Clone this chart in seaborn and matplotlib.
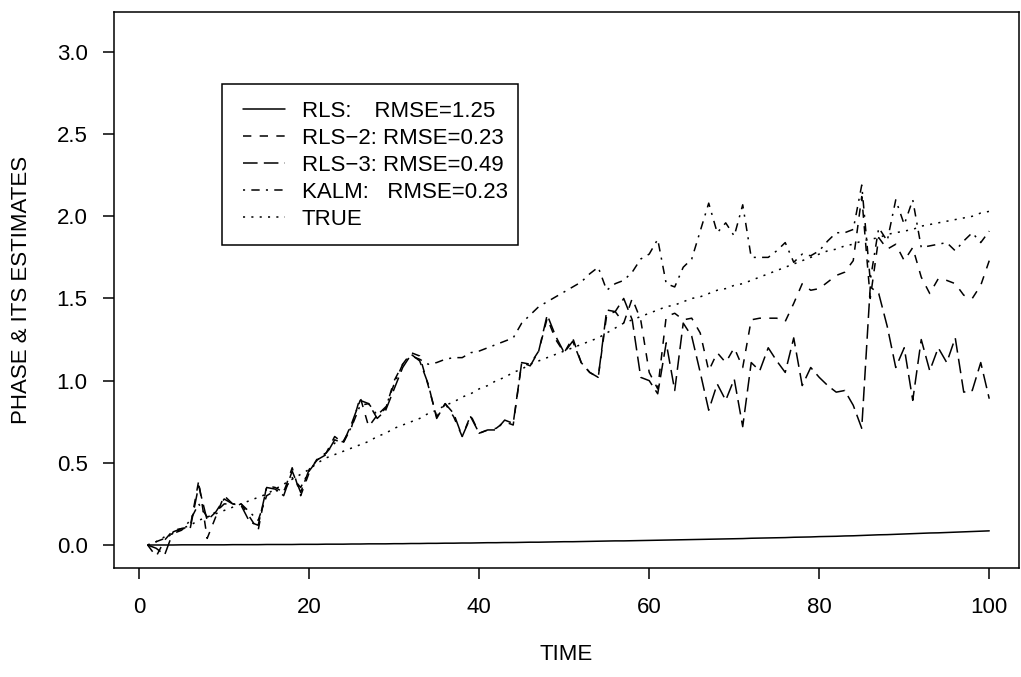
import matplotlib
matplotlib.use("Agg")
import matplotlib.pyplot as plt
import seaborn as sns
import pandas as pd
from matplotlib.patches import Rectangle

# ---------------- data ----------------
time = list(range(1, 101))

rls = [0.000, 0.000, 0.000, 0.000, 0.001, 0.001, 0.001, 0.001, 0.001, 0.001,
       0.002, 0.002, 0.002, 0.002, 0.003, 0.003, 0.003, 0.003, 0.004, 0.004,
       0.004, 0.005, 0.005, 0.005, 0.006, 0.006, 0.007, 0.007, 0.007, 0.008,
       0.008, 0.009, 0.009, 0.010, 0.010, 0.011, 0.011, 0.012, 0.012, 0.013,
       0.014, 0.014, 0.015, 0.015, 0.016, 0.017, 0.017, 0.018, 0.019, 0.020,
       0.020, 0.021, 0.022, 0.023, 0.024, 0.025, 0.025, 0.026, 0.027, 0.028,
       0.029, 0.030, 0.031, 0.032, 0.033, 0.034, 0.035, 0.036, 0.037, 0.038,
       0.039, 0.041, 0.042, 0.043, 0.044, 0.045, 0.047, 0.048, 0.049, 0.051,
       0.052, 0.053, 0.055, 0.056, 0.058, 0.060, 0.062, 0.063, 0.065, 0.067,
       0.069, 0.071, 0.073, 0.074, 0.076, 0.078, 0.080, 0.082, 0.084, 0.086]

rls2 = [0.00, -0.07, 0.03, 0.09, 0.10, 0.11, 0.39, 0.04, 0.17, 0.30,
        0.25, 0.25, 0.17, 0.09, 0.36, 0.35, 0.32, 0.47, 0.30, 0.44,
        0.53, 0.56, 0.66, 0.62, 0.72, 0.90, 0.72, 0.79, 0.83, 1.00,
        1.10, 1.17, 1.15, 0.97, 0.78, 0.86, 0.78, 0.66, 0.79, 0.68,
        0.70, 0.71, 0.75, 0.73, 1.11, 1.10, 1.18, 1.38, 1.25, 1.17,
        1.26, 1.11, 1.05, 1.02, 1.40, 1.42, 1.35, 1.50, 1.37, 1.05,
        0.95, 1.39, 1.41, 1.37, 1.38, 1.29, 1.06, 1.17, 1.11, 1.20,
        1.08, 1.37, 1.38, 1.38, 1.38, 1.36, 1.47, 1.59, 1.55, 1.56,
        1.60, 1.64, 1.66, 1.73, 2.12, 1.50, 1.87, 1.80, 1.83, 1.73,
        1.81, 1.63, 1.53, 1.62, 1.61, 1.59, 1.52, 1.50, 1.58, 1.73]

rls3 = [0.00, -0.02, -0.06, 0.08, 0.10, 0.10, 0.36, 0.15, 0.20, 0.28,
        0.25, 0.24, 0.14, 0.12, 0.35, 0.34, 0.30, 0.45, 0.32, 0.46,
        0.52, 0.55, 0.64, 0.62, 0.74, 0.88, 0.86, 0.77, 0.82, 0.95,
        1.08, 1.16, 1.12, 0.98, 0.77, 0.86, 0.80, 0.66, 0.78, 0.68,
        0.70, 0.70, 0.76, 0.74, 1.11, 1.09, 1.18, 1.40, 1.27, 1.17,
        1.24, 1.11, 1.05, 1.02, 1.43, 1.42, 1.50, 1.37, 1.02, 1.00,
        0.92, 1.23, 0.94, 1.35, 1.27, 1.05, 0.82, 0.98, 0.88, 1.01,
        0.72, 1.11, 1.06, 1.20, 1.12, 1.05, 1.26, 0.97, 1.08, 1.02,
        0.97, 0.93, 0.94, 0.85, 0.71, 1.57, 1.53, 1.33, 1.08, 1.20,
        0.88, 1.25, 1.06, 1.20, 1.11, 1.26, 0.93, 0.94, 1.11, 0.89]

kalm = [0.00, 0.02, 0.04, 0.07, 0.09, 0.15, 0.25, 0.17, 0.20, 0.25,
        0.25, 0.25, 0.20, 0.15, 0.30, 0.33, 0.33, 0.41, 0.35, 0.45,
        0.52, 0.56, 0.62, 0.63, 0.72, 0.85, 0.86, 0.79, 0.84, 0.98,
        1.10, 1.15, 1.13, 1.10, 1.11, 1.13, 1.14, 1.14, 1.17, 1.18,
        1.20, 1.22, 1.24, 1.26, 1.35, 1.40, 1.45, 1.48, 1.51, 1.54,
        1.57, 1.60, 1.65, 1.69, 1.55, 1.59, 1.61, 1.66, 1.74, 1.77,
        1.86, 1.59, 1.57, 1.69, 1.74, 1.91, 2.08, 1.90, 1.96, 1.88,
        2.07, 1.75, 1.75, 1.75, 1.79, 1.84, 1.72, 1.77, 1.76, 1.79,
        1.85, 1.90, 1.90, 1.92, 2.19, 1.61, 1.93, 1.85, 2.10, 1.95,
        2.10, 1.81, 1.82, 1.83, 1.84, 1.79, 1.85, 1.90, 1.84, 1.91]

true_phase = [0.00, 0.02, 0.05, 0.07, 0.10, 0.12, 0.15, 0.17, 0.19, 0.21,
              0.23, 0.25, 0.27, 0.29, 0.31, 0.34, 0.37, 0.40, 0.43, 0.46,
              0.50, 0.53, 0.55, 0.57, 0.59, 0.61, 0.63, 0.66, 0.68, 0.71,
              0.73, 0.75, 0.77, 0.80, 0.82, 0.85, 0.87, 0.90, 0.92, 0.95,
              0.97, 1.00, 1.02, 1.05, 1.07, 1.10, 1.12, 1.14, 1.16, 1.18,
              1.20, 1.22, 1.24, 1.26, 1.29, 1.32, 1.35, 1.37, 1.39, 1.41,
              1.43, 1.45, 1.46, 1.48, 1.50, 1.51, 1.53, 1.55, 1.56, 1.58,
              1.59, 1.61, 1.63, 1.65, 1.67, 1.69, 1.71, 1.73, 1.75, 1.77,
              1.79, 1.80, 1.82, 1.83, 1.85, 1.86, 1.87, 1.89, 1.90, 1.91,
              1.92, 1.94, 1.95, 1.96, 1.97, 1.98, 1.99, 2.00, 2.02, 2.03]

series_names = ["RLS", "RLS-2", "RLS-3", "KALM", "TRUE"]
legend_labels = ["RLS:   \u2009RMSE=1.25",
                 "RLS\u22122: RMSE=0.23",
                 "RLS\u22123: RMSE=0.49",
                 "KALM:   RMSE=0.23",
                 "TRUE"]
x_ticks = [0, 20, 40, 60, 80, 100]
y_ticks = [0.0, 0.5, 1.0, 1.5, 2.0, 2.5, 3.0]
x_label = "TIME"
y_label = "PHASE & ITS ESTIMATES"

# ---------------- style ----------------
sns.set_theme(style="ticks")
plt.rcParams["font.family"] = ["Liberation Sans", "DejaVu Sans"]
plt.rcParams["lines.scale_dashes"] = False

FS = 16
LW = 1.1
dash_styles = {
    "RLS": "-",
    "RLS-2": (0, (6.0, 6.0)),
    "RLS-3": (0, (10.5, 4.5)),
    "KALM": (0, (1.5, 4.5, 6.0, 4.5)),
    "TRUE": (0, (1.5, 4.5)),
}

W, H = 1021, 677
fig = plt.figure(figsize=(W / 100, H / 100), dpi=100)
left, right, top, bottom = 114, 1019, 12, 568
ax = fig.add_axes([left / W, (H - bottom) / H, (right - left) / W, (bottom - top) / H])

df = pd.DataFrame({
    "time": time * 5,
    "value": rls + rls2 + rls3 + kalm + true_phase,
    "series": [n for n in series_names for _ in time],
})

handles = []
for name in series_names:
    sub = df[df["series"] == name]
    sns.lineplot(data=sub, x="time", y="value", color="black", linewidth=LW,
                 estimator=None, sort=False, ax=ax, legend=False)
    line = ax.lines[-1]
    line.set_linestyle(dash_styles[name])
    handles.append(line)

ax.set_xlim(-2.96, 103.5)
ax.set_ylim(-0.140, 3.243)
ax.set_xticks(x_ticks)
ax.set_xticklabels([str(v) for v in x_ticks])
ax.set_yticks(y_ticks)
ax.set_yticklabels([f"{v:.1f}" for v in y_ticks])

for s in ax.spines.values():
    s.set_color("black")
    s.set_linewidth(LW)
ax.tick_params(axis="both", direction="out", length=8, width=LW, color="black",
               labelsize=FS, labelcolor="black")
ax.tick_params(axis="x", pad=13)
ax.tick_params(axis="y", pad=11)

ax.set_xlabel(x_label, fontsize=FS, color="black")
ax.set_ylabel(y_label, fontsize=FS, color="black")
ax.xaxis.label.set_verticalalignment("center")
ax.yaxis.label.set_verticalalignment("center")
ax.xaxis.set_label_coords(0.5, (bottom - 655) / (bottom - top))
ax.yaxis.set_label_coords((22 - left) / (right - left), 0.5)

leg = ax.legend(handles=handles, labels=legend_labels, loc="upper left",
                bbox_to_anchor=((243 - left) / (right - left), (bottom - 101) / (bottom - top)),
                bbox_transform=ax.transAxes, frameon=False, borderpad=0, borderaxespad=0,
                handlelength=1.89, handletextpad=0.75, labelspacing=0.27, fontsize=FS)
for t in leg.get_texts():
    t.set_color("black")

bx0, bx1, by0, by1 = 222, 518, 84, 245
ax.add_patch(Rectangle(((bx0 - left) / (right - left), (bottom - by1) / (bottom - top)),
                       (bx1 - bx0) / (right - left), (by1 - by0) / (bottom - top),
                       transform=ax.transAxes, fill=False, edgecolor="black",
                       linewidth=LW, clip_on=False, zorder=5))

fig.savefig("out.png", dpi=100, facecolor="white")
